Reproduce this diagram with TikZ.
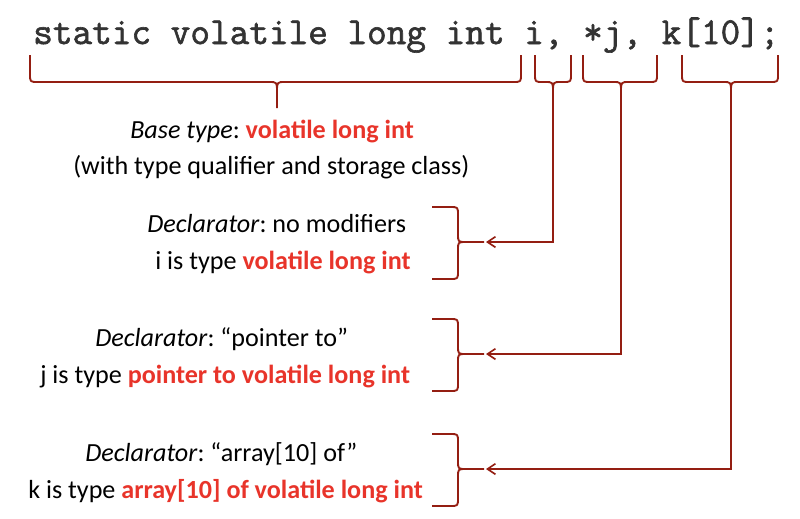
\documentclass[tikz,border=0pt]{standalone}
\usepackage{fontspec}
\setmainfont{Carlito}
\newfontfamily\codefont[FakeBold=1.6]{Latin Modern Mono}
\usetikzlibrary{arrows.meta}
\definecolor{bracecol}{HTML}{941E12}
\definecolor{hilite}{HTML}{E8342A}
\definecolor{codecol}{HTML}{333333}
\newcommand{\hl}[1]{\textcolor{hilite}{\bfseries #1}}
\frenchspacing
\tikzset{
  lbl/.style={anchor=base west, inner sep=0pt, font=\fontsize{19.6}{23}\selectfont},
  code/.style={anchor=base west, inner sep=0pt, text=codecol, font=\codefont\fontsize{28.6}{32}\selectfont},
  bracepath/.style={draw=bracecol, line width=1.4pt, line join=round},
  conn/.style={draw=bracecol, line width=1.2pt, -{Straight Barb[length=6pt,width=8pt,line width=1.2pt]}}
}
\begin{document}
\begin{tikzpicture}[x=0.75pt,y=-0.75pt]
\useasboundingbox (0,0) rectangle (800,518);
% code line
\node[code] (codeline) at (33,44) {static volatile long int i, *j, k[10];};
% top braces
\foreach \L/\R/\T/\B/\nm in {30/521/277/108/tb, 535/571/553/100/ti, 583/657/621/100/tj, 682/778/731/100/tk}{
  \draw[bracepath] (\L,55) -- (\L,74) .. controls (\L,82) .. (\L+8,82) -- (\T-8,82) .. controls (\T,82) .. (\T,92) -- (\T,\B);
  \draw[bracepath] (\R,55) -- (\R,74) .. controls (\R,82) .. (\R-8,82) -- (\T+8,82) .. controls (\T,82) .. (\T,92);
  \coordinate (\nm) at (\T,\B);
}
% side braces
\foreach \Y/\nm in {242/bi, 354/bj, 469/bk}{
  \draw[bracepath] (432,\Y-35) -- (450,\Y-35) .. controls (458,\Y-35) .. (458,\Y-27) -- (458,\Y-8) .. controls (458,\Y) .. (466,\Y) -- (484,\Y);
  \draw[bracepath] (432,\Y+37) -- (450,\Y+37) .. controls (458,\Y+37) .. (458,\Y+29) -- (458,\Y+8) .. controls (458,\Y) .. (466,\Y);
  \coordinate (\nm) at (486,\Y);
}
% connectors
\draw[conn] (ti) |- (bi);
\draw[conn] (tj) |- (bj);
\draw[conn] (tk) |- (bk);
% labels
\node[lbl] (base1) at (130,138) {\textit{Base type}: \hl{volatile long int}};
\node[lbl] (base2) at (73,174) {(with type qualifier and storage class)};
\node[lbl] (d1a) at (147,232) {\textit{Declarator}: no modifiers};
\node[lbl] (d1b) at (155,269) {i is type \hl{volatile long int}};
\node[lbl] (d2a) at (95,346) {\textit{Declarator}: “pointer to”};
\node[lbl] (d2b) at (40,383) {j is type \hl{pointer to volatile long int}};
\node[lbl] (d3a) at (85,461) {\textit{Declarator}: “array[10] of”};
\node[lbl] (d3b) at (28,498) {k is type \hl{array[10] of volatile long int}};
\end{tikzpicture}
\end{document}
